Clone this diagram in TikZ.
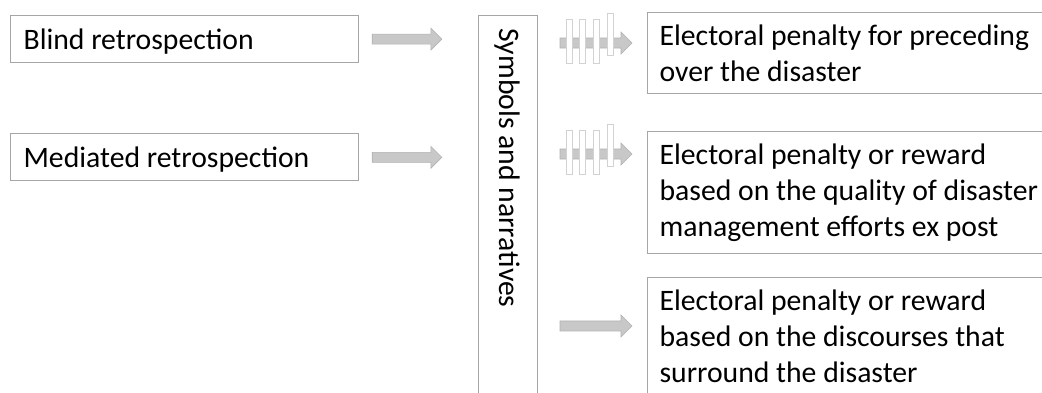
\documentclass[tikz,border=0pt]{standalone}
\usepackage{fontspec}
\setmainfont{Carlito}
\usetikzlibrary{positioning,calc}
\definecolor{boxgray}{RGB}{166,166,166}
\definecolor{arrowfill}{RGB}{200,200,200}
\definecolor{arrowedge}{RGB}{178,178,178}

\begin{document}
\begin{tikzpicture}[x=1pt,y=-1pt,
  every node/.style={font=\fontsize{29.7}{36}\selectfont},
  leftbox/.style={draw=boxgray, line width=1.2pt, anchor=north west, minimum width=348pt, minimum height=47pt, text width=322pt, text height=21pt, text depth=0pt, inner xsep=13pt, align=flush left},
  rightbox/.style={draw=boxgray, line width=1.2pt, anchor=north west, text width=400pt, inner xsep=12pt, inner ysep=12pt, align=flush left},
  sidebox/.style={draw=boxgray, line width=1.2pt, rotate=-90, anchor=north west, minimum width=420pt, minimum height=59pt, text width=394pt, inner xsep=13pt, align=flush left},
  fatarrow/.style={fill=arrowfill, draw=arrowedge, line width=0.6pt,
    to path={let \p1=(\tikztostart), \p2=(\tikztotarget) in
      (\x1,\y1-5pt) -- (\x2-11pt,\y1-5pt) -- (\x2-11pt,\y1-11pt) -- (\x2,\y1)
      -- (\x2-11pt,\y1+11pt) -- (\x2-11pt,\y1+5pt) -- (\x1,\y1+5pt) -- cycle}},
  stripe/.style={fill=white, draw=gray!35, line width=0.6pt}]
\useasboundingbox (0,0) rectangle (1042,392);
\clip (0,0) rectangle (1042,392);
\fill[white] (0,0) rectangle (1042,392);

\node[leftbox] (blind) at (10,15) {Blind retrospection};
\node[leftbox, below=70pt of blind.south west, anchor=north west] (mediated) {Mediated retrospection};
\node[sidebox] (symb) at (538,15) {Symbols and narratives};
\node[rightbox] (penalty) at (647,12) {Electoral penalty for preceding\\over the disaster};
\node[rightbox, below=37pt of penalty.south west, anchor=north west] (quality) {Electoral penalty or reward\\based on the quality of disaster\\management efforts ex post};
\node[rightbox, text depth=100pt, below=23pt of quality.south west, anchor=north west] (discourse) {Electoral penalty or reward\\based on the discourses that\\surround the disaster};

% arrows into the narratives
\draw[fatarrow] ([xshift=13pt]blind.east) to ([xshift=-36pt]blind.east -| symb.south);
\draw[fatarrow] ([xshift=13pt]mediated.east) to ([xshift=-36pt]mediated.east -| symb.south);

% arrows out of the narratives
\coordinate (t1) at ([yshift=-31pt]penalty.north west);
\coordinate (t2) at ([yshift=-23pt]quality.north west);
\coordinate (t3) at ([yshift=-49pt]discourse.north west);
\foreach \t in {t1,t2,t3}
  \draw[fatarrow] ([xshift=22pt]\t -| symb.north) coordinate (f\t) to ([xshift=-15pt]\t);

% broken stripes on the first two
\foreach \f in {ft1,ft2}
  \foreach \dx/\yt/\yb in {6/-24/20, 19/-24/20, 33/-24/20, 47/-30/12}
    \draw[stripe] ([shift={(\dx,\yt)}]\f) rectangle ([shift={(\dx+6,\yb)}]\f);
\end{tikzpicture}
\end{document}
